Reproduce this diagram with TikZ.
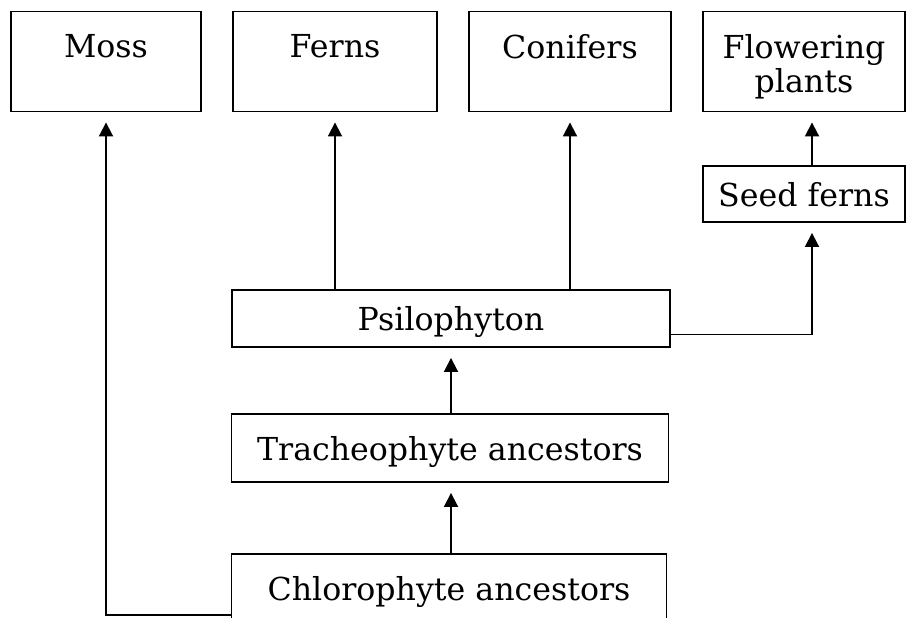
\documentclass[tikz,border=0pt]{standalone}
\usepackage{fontspec}
\setmainfont{DejaVu Serif}
\usetikzlibrary{arrows.meta}
\tikzset{box/.style={draw, line width=1.6pt, inner sep=0pt, text depth=0pt, minimum width=#1},
%tall boxes of the top row carry their text near the upper edge
tallbox/.style={box=#1, minimum height=3cm},
toptext/.style={anchor=north, inner sep=0pt, yshift=-0.7cm, align=center},
arrow/.style={draw, line width=1.6pt, -{Triangle[width=0.42cm,length=0.42cm]}, shorten >=0.3cm}}

\begin{document}
\begin{tikzpicture}[x=0.03cm, y=-0.03cm, font=\fontsize{27}{29}\selectfont]
\path[use as bounding box, clip] (0,0) rectangle (906,617);
% top row
\node[tallbox=5.7cm, label={[toptext]north:Moss}] (moss) at (106,61.5) {};
\node[tallbox=6.12cm, label={[toptext]north:Ferns}] (ferns) at (335,61.5) {};
\node[tallbox=6.06cm, label={[toptext]north:Conifers}] (conifers) at (570,61.5) {};
\node[tallbox=6.06cm, label={[toptext]north:{Flowering\\plants}}] (flower) at (804,61.5) {};

% lower boxes
\node[box=6.06cm, minimum height=1.68cm] (seed) at (804,194) {Seed ferns};
\node[box=13.14cm, minimum height=1.71cm] (psilo) at (451,318.5) {Psilophyton};
\node[box=13.11cm, minimum height=2.04cm] (trach) at (450,448) {Tracheophyte ancestors};
\node[box=13.05cm, minimum height=2.04cm] (chloro) at (449,588) {Chlorophyte ancestors};

% connectors
\draw[arrow] (chloro.north -| psilo) -- (trach.south -| psilo);
\draw[arrow] (trach.north -| psilo) -- (psilo);
\draw[arrow] (ferns |- psilo.north) -- (ferns);
\draw[arrow] (conifers |- psilo.north) -- (conifers);
\draw[arrow] ([yshift=-0.48cm]psilo.east) -| ([xshift=0.24cm]seed.south);
\draw[arrow] ([xshift=0.24cm]seed.north) -- ([xshift=0.24cm]flower.south);
\draw[arrow] ([yshift=0.24cm]chloro.south west) -| (moss);

\end{tikzpicture}
\end{document}
